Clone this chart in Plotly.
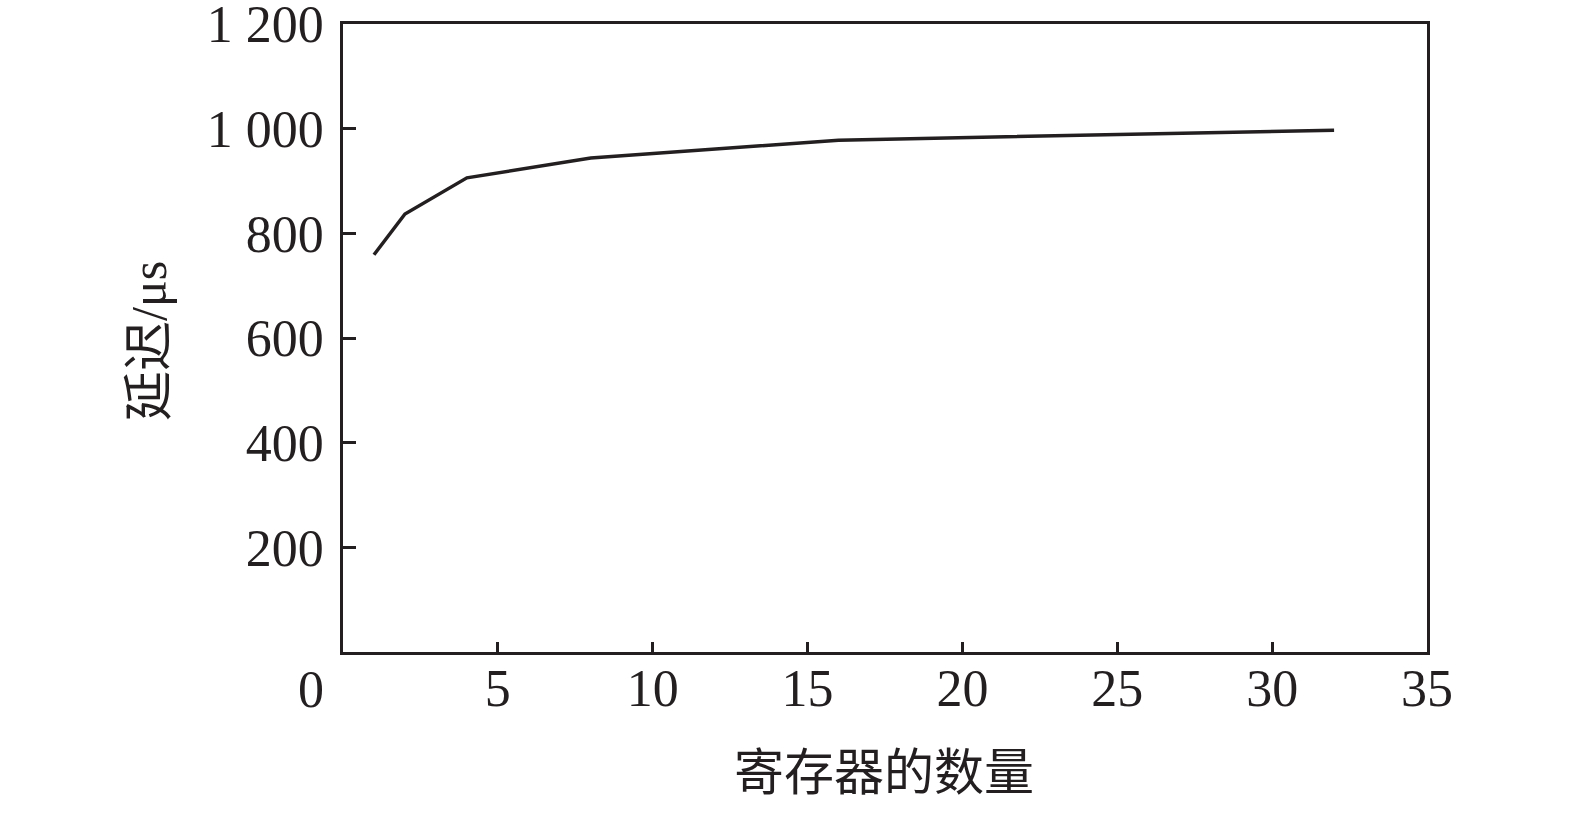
import plotly.graph_objects as go

registers = [1, 2, 4, 8, 16, 32]
latency_us = [759, 837, 906, 944, 978, 997]

x_ticks = [5, 10, 15, 20, 25, 30, 35]
y_ticks = [200, 400, 600, 800, 1000, 1200]

x_title = "寄存器的数量"
y_title = "延迟/μs"

ink = "#231f20"
serif = "Liberation Serif, Times New Roman, serif"
cjk = "Liberation Serif, Noto Sans CJK SC, serif"

# plot-area edges in page pixels (page body margin is removed below)
L, R, T, B = 343, 1427, 24, 652
PW, PH = R - L, B - T
W, H = 1575, 815

fig = go.Figure()
fig.add_trace(go.Scatter(x=registers, y=latency_us, mode="lines",
                         line=dict(color=ink, width=3.5), showlegend=False))

fig.update_layout(
    width=W, height=H,
    margin=dict(l=L, r=W - R, t=T, b=H - B),
    paper_bgcolor="white", plot_bgcolor="white",
    separators=". ",
    font=dict(family=serif, size=52, color=ink),
)
fig.update_xaxes(range=[0, 35], tickvals=x_ticks, ticks="inside", ticklen=10, tickwidth=2.5,
                 tickcolor=ink, showline=True, linecolor=ink, linewidth=2.5, mirror=True,
                 showgrid=False, zeroline=False, ticklabelstandoff=-11,
                 ticklabeloverflow="allow", automargin=False,
                 tickfont=dict(family=serif, size=52, color=ink))
fig.update_yaxes(range=[0, 1200], tickvals=y_ticks, ticks="inside", ticklen=13, tickwidth=2.5,
                 tickcolor=ink, showline=True, linecolor=ink, linewidth=2.5, mirror=True,
                 showgrid=False, zeroline=False, separatethousands=True, tickformat=",d",
                 ticklabelstandoff=6, ticklabeloverflow="allow", automargin=False,
                 tickfont=dict(family=serif, size=52, color=ink))

fig.add_annotation(x=0, y=0, xref="x", yref="y", text="0", showarrow=False,
                   xanchor="center", yanchor="middle", xshift=-32, yshift=-37,
                   font=dict(family=serif, size=52, color=ink))
fig.add_annotation(x=(884 - L) / PW, y=(B - 773) / PH, xref="paper", yref="paper", text=x_title,
                   showarrow=False, xanchor="center", yanchor="middle",
                   font=dict(family=cjk, size=50, color=ink))
fig.add_annotation(x=(149 - L) / PW, y=(B - 341) / PH, xref="paper", yref="paper", text=y_title,
                   showarrow=False, xanchor="center", yanchor="middle", textangle=-90,
                   font=dict(family=cjk, size=50, color=ink))

fig.write_html("out.html", config={"displayModeBar": False},
               post_script="document.body.style.margin='0';document.body.style.overflow='hidden';")
